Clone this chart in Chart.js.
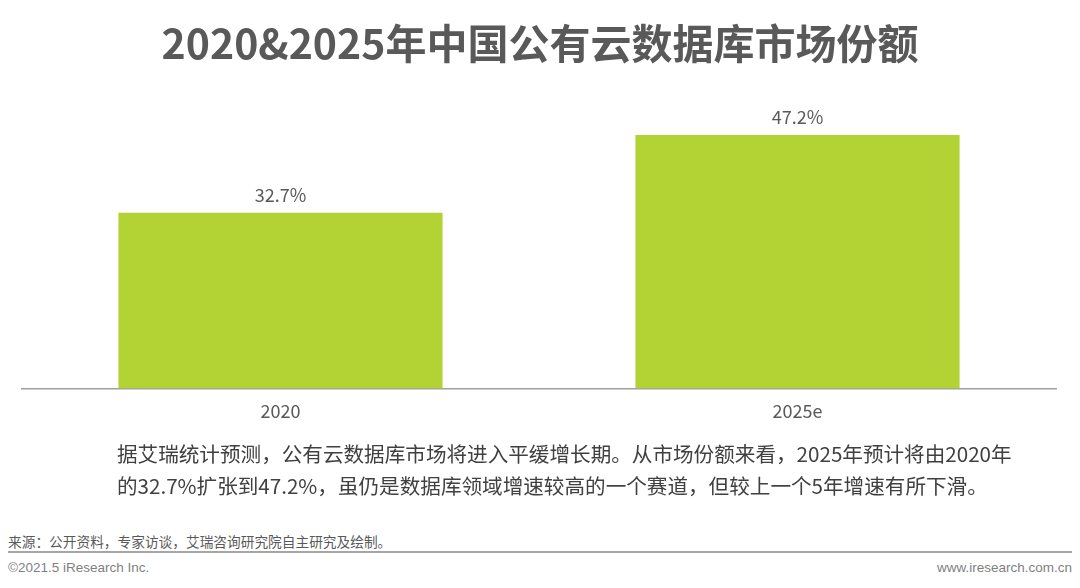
<!DOCTYPE html>
<html><head><meta charset="utf-8">
<script src="https://cdn.jsdelivr.net/npm/chart.js@4.4.0/dist/chart.umd.min.js"></script>
<style>
html,body{margin:0;padding:0;background:#fff;width:1080px;height:588px;overflow:hidden;font-family:"Noto Sans CJK SC","Noto Sans",sans-serif;}
#wrap{position:relative;width:1080px;height:588px;}
#title{position:absolute;left:0;top:13px;width:1080px;text-align:center;font-size:41px;font-weight:bold;color:#595959;line-height:56px;}
#c{position:absolute;left:0;top:0;}
#desc{position:absolute;left:117px;top:437px;width:940px;font-size:20.6px;line-height:32px;color:#404040;}
#src{position:absolute;left:8px;top:532px;font-size:13.7px;color:#595959;line-height:18px;}
#rule{position:absolute;left:8px;top:551px;width:1064px;height:2px;background:#a6a6a6;}
#copy{position:absolute;left:8px;top:559px;font-family:"Liberation Sans",Arial,sans-serif;font-size:13.5px;color:#7f7f7f;line-height:17px;}
#web{position:absolute;right:8px;top:559px;font-family:"Liberation Sans",Arial,sans-serif;font-size:13.5px;color:#7f7f7f;line-height:17px;}
</style></head>
<body><div id="wrap">
<canvas id="c" width="1080" height="450"></canvas>
<div id="title">2020&amp;2025年中国公有云数据库市场份额</div>
<div id="desc">据艾瑞统计预测，公有云数据库市场将进入平缓增长期。从市场份额来看，2025年预计将由2020年<br>的32.7%扩张到47.2%，虽仍是数据库领域增速较高的一个赛道，但较上一个5年增速有所下滑。</div>
<div id="src">来源：公开资料，专家访谈，艾瑞咨询研究院自主研究及绘制。</div>
<div id="rule"></div>
<div id="copy">©2021.5 iResearch Inc.</div>
<div id="web">www.iresearch.com.cn</div>
</div>
<script>
const categories = ["2020", "2025e"];
const shareValues = [32.7, 47.2];
const valueLabels = ["32.7%", "47.2%"];

const labelPlugin = {
  id: 'valueLabels',
  afterDatasetsDraw(chart) {
    const ctx = chart.ctx;
    const meta = chart.getDatasetMeta(0);
    ctx.save();
    ctx.font = '18px "Noto Sans CJK SC", "Noto Sans", sans-serif';
    ctx.fillStyle = '#595959';
    ctx.textAlign = 'center';
    ctx.textBaseline = 'bottom';
    meta.data.forEach((bar, i) => {
      ctx.fillText(valueLabels[i], bar.x, bar.y - 9);
    });
    ctx.restore();
  }
};

new Chart(document.getElementById('c'), {
  type: 'bar',
  data: {
    labels: categories,
    datasets: [{
      data: shareValues,
      backgroundColor: '#b3d335',
      borderWidth: 0,
      barPercentage: 1,
      categoryPercentage: 0.627
    }]
  },
  options: {
    responsive: false,
    animation: false,
    events: [],
    layout: { padding: { left: 22, right: 24, top: 120, bottom: 24 } },
    plugins: { legend: { display: false }, tooltip: { enabled: false }, title: { display: false } },
    scales: {
      x: {
        grid: { display: false },
        border: { display: true, color: '#a0a0a0', width: 1.5 },
        ticks: { color: '#595959', padding: 4, font: { size: 18, family: '"Noto Sans CJK SC", "Noto Sans", sans-serif' } }
      },
      y: {
        display: false,
        min: 0,
        max: 50
      }
    }
  },
  plugins: [labelPlugin]
});
</script>
</body></html>
